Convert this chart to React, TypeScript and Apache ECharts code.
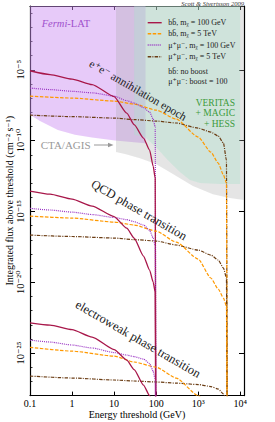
import React, { useEffect, useRef } from "react";
import * as echarts from "echarts";

// ---------- data (energies in GeV, fluxes as log10 of cm^-2 s^-1) ----------
const energy100GeV = [0.1, 0.3, 1, 3, 10, 20, 30, 50, 70, 85, 95, 100];
const energy5TeV = [0.1, 1, 10, 30, 100, 300, 1000, 2000, 3000, 4000, 4700, 5000];

// e+e- annihilation epoch
const annBb100 = [-5.07, -5.34, -5.66, -6.05, -6.89, -8.06, -8.88, -9.82, -10.67, -11.8, -12.65, -40];
const annMu100 = [-6.29, -6.4, -6.52, -6.63, -6.86, -7.18, -7.35, -7.67, -7.99, -8.48, -9.05, -40];
const annBb5000 = [-6.86, -7.0, -7.21, -7.42, -7.85, -8.48, -9.75, -10.81, -11.59, -12.43, -13.0, -40];
const annMu5000 = [-8.2, -8.31, -8.41, -8.52, -8.62, -8.76, -9.12, -9.4, -9.68, -10.18, -11.38, -40];

// QCD phase transition
const qcdBb100 = [-13.56, -13.78, -14.13, -14.62, -15.36, -16.18, -16.88, -18.15, -19.14, -19.99, -20.69, -40];
const qcdMu100 = [-14.78, -14.9, -15.05, -15.22, -15.43, -15.58, -15.72, -15.96, -16.32, -16.88, -17.45, -40];
const qcdBb5000 = [-15.33, -15.47, -15.75, -15.96, -16.39, -17.16, -18.36, -19.7, -20.48, -21.12, -21.68, -40];
const qcdMu5000 = [-16.67, -16.77, -16.88, -16.99, -17.09, -17.37, -17.73, -18.08, -18.43, -19.0, -19.7, -40];

// electroweak phase transition
const ewBb100 = [-22.86, -23.02, -23.34, -23.87, -24.75, -25.49, -26.16, -27.26, -28.0, -28.8, -30, -40];
const ewMu100 = [-24.08, -24.22, -24.43, -24.64, -24.96, -25.14, -25.25, -25.42, -25.74, -26.27, -26.9, -40];
const ewBb5000 = [-24.59, -24.86, -25.21, -25.63, -25.99, -26.76, -28.0, -29, -30, -31, -32, -40];
const ewMu5000 = [-26.62, -26.76, -26.9, -26.97, -27.04, -27.12, -27.22, -27.36, -27.54, -27.89, -28.3, -40];

// sensitivity regions (lower boundaries)
const fermiEnergy = [0.1, 0.173, 0.46, 1.17, 2.98, 10.5, 29.7, 56];
const fermiLogFlux = [-8.17, -8.62, -9.26, -9.58, -9.79, -10.0, -10.11, -10.18];
const ctaEnergy = [11.1, 18.2, 41.2, 99, 251, 750, 2244, 5690, 13000];
const ctaLogFlux = [-10.81, -10.95, -11.24, -11.66, -12.36, -13.21, -13.78, -14.06, -14.2];
const veritasEnergy = [30, 54, 104, 191, 368, 637, 1100, 3290, 10000];
const veritasLogFlux = [-9.61, -9.75, -10.53, -11.38, -12.22, -12.79, -13.0, -13.07, -13.07];

// tick labels
const xTickValues = [-1, 0, 1, 2, 3, 4];
const xTickLabels = ["0.1", "1", "10", "100", "10³", "10⁴"];
const yTickValues = [-25, -20, -15, -10, -5];
const yTickLabels = ["10⁻²⁵", "10⁻²⁰", "10⁻¹⁵", "10⁻¹⁰", "10⁻⁵"];

const legendNames = [
  "bb̄, mᵪ = 100 GeV",
  "bb̄, mᵪ = 5 TeV",
  "μ⁺μ⁻, mᵪ = 100 GeV",
  "μ⁺μ⁻, mᵪ = 5 TeV",
];
const legendKeys = ["bb100", "bb5000", "mu100", "mu5000"];
const legendNotes = ["bb̄: no boost", "μ⁺μ⁻: boost = 100"];

// ---------- styles ----------
const SERIF = '"Liberation Serif", "DejaVu Serif", serif';
const styles: Record<string, { color: string; type: any; width: number }> = {
  bb100: { color: "#a8174a", type: "solid", width: 1.3 },
  bb5000: { color: "#ff9900", type: [3.5, 1.5], width: 1.2 },
  mu100: { color: "#9a35c4", type: [1, 1], width: 1.2 },
  mu5000: { color: "#6b3d14", type: [3.5, 1.2, 1, 1.2], width: 1.2 },
};

function pts(energies: number[], logFlux: number[]) {
  return energies.map((e, i) => [Math.log10(e), logFlux[i]]);
}

function curve(key: string, name: string, energies: number[], logFlux: number[]) {
  const s = styles[key];
  return {
    type: "line",
    name,
    data: pts(energies, logFlux),
    symbol: "none",
    showSymbol: false,
    smooth: 0.2,
    smoothMonotone: "x",
    clip: true,
    color: s.color,
    lineStyle: { color: s.color, type: s.type, width: s.width },
    z: 3,
    silent: true,
  };
}

function region(name: string, energies: number[], logFlux: number[], color: string) {
  return {
    type: "line",
    name,
    data: pts(energies, logFlux),
    symbol: "none",
    showSymbol: false,
    clip: true,
    lineStyle: { width: 0, opacity: 0 },
    areaStyle: { origin: "end", color, opacity: 1 },
    z: 1,
    silent: true,
  };
}

const axisLineStyle = { show: true, onZero: false, lineStyle: { color: "#000", width: 1.2 } };

function buildOption() {
  const series: any[] = [
    region("Fermi-LAT", fermiEnergy, fermiLogFlux, "rgba(205,145,242,0.48)"),
    region("CTA/AGIS", ctaEnergy, ctaLogFlux, "rgba(170,170,170,0.3)"),
    region("VERITAS", veritasEnergy, veritasLogFlux, "rgba(175,225,205,0.4)"),
  ];
  const groups = [
    [annBb100, annBb5000, annMu100, annMu5000],
    [qcdBb100, qcdBb5000, qcdMu100, qcdMu5000],
    [ewBb100, ewBb5000, ewMu100, ewMu5000],
  ];
  groups.forEach((g) => {
    series.push(curve("mu5000", legendNames[3], energy5TeV, g[3]));
    series.push(curve("bb5000", legendNames[1], energy5TeV, g[1]));
    series.push(curve("mu100", legendNames[2], energy100GeV, g[2]));
    series.push(curve("bb100", legendNames[0], energy100GeV, g[0]));
  });

  const txt = (text: string, x: number, y: number, extra: any = {}) => ({
    type: "text",
    x,
    y,
    silent: true,
    z: 10,
    rotation: extra.rotation || 0,
    style: {
      text,
      fontFamily: SERIF,
      fontSize: extra.fontSize || 10,
      fill: extra.fill || "#111",
      align: extra.align || "left",
      verticalAlign: "middle",
      fontStyle: extra.fontStyle || "normal",
      lineHeight: extra.lineHeight,
      rich: extra.rich,
    },
  });
  const rot = (-30 * Math.PI) / 180;

  const graphic: any[] = [
    txt("Scott & Sivertsson 2009", 244, 3.3, { fontSize: 6.5, align: "right", fontStyle: "italic", fill: "#333" }),
    txt("{i|Fermi}-LAT", 41.7, 23.5, {
      fontSize: 10.5,
      fill: "#a050cc",
      rich: { i: { fontStyle: "italic", fontFamily: SERIF, fontSize: 10.5, fill: "#a050cc" } },
    }),
    txt("e⁺e⁻ annihilation epoch", 138, 90, { fontSize: 11.5, align: "center", rotation: rot, fill: "#1a1a1a" }),
    txt("QCD phase transition", 139, 210, { fontSize: 12.5, align: "center", rotation: rot, fill: "#1a1a1a" }),
    txt("electroweak phase transition", 138, 339, { fontSize: 12.5, align: "center", rotation: rot, fill: "#1a1a1a" }),
    txt("CTA/AGIS", 40.7, 145, { fontSize: 11, fill: "#999" }),
    {
      type: "line",
      silent: true,
      z: 10,
      shape: { x1: 94, y1: 145, x2: 110, y2: 145 },
      style: { stroke: "#999", lineWidth: 1 },
    },
    {
      type: "polygon",
      silent: true,
      z: 10,
      shape: { points: [[113.5, 145], [108, 142.8], [108, 147.2]] },
      style: { fill: "#999" },
    },
    txt("VERITAS\n+ MAGIC\n+ HESS", 235, 113, {
      fontSize: 9.5,
      lineHeight: 10.5,
      align: "right",
      fill: "#3c9b3c",
    }),
  ];

  // legend (drawn as graphic swatches + labels)
  const rowY = [22.7, 33.7, 45, 56.7];
  legendKeys.forEach((k, i) => {
    const s = styles[k];
    graphic.push({
      type: "line",
      silent: true,
      z: 10,
      shape: { x1: 147.7, y1: rowY[i], x2: 161.7, y2: rowY[i] },
      style: {
        stroke: s.color,
        lineWidth: 1.4,
        lineDash: Array.isArray(s.type) ? s.type : null,
      },
    });
    graphic.push(txt(legendNames[i], 168.3, rowY[i], { fontSize: 8, fill: "#222" }));
  });
  graphic.push(txt(legendNotes[0], 168.3, 71.7, { fontSize: 8, fill: "#222" }));
  graphic.push(txt(legendNotes[1], 168.3, 81, { fontSize: 8, fill: "#222" }));

  const xFmt = (v: number) => {
    const i = xTickValues.indexOf(Math.round(v * 1000) / 1000);
    return i >= 0 ? xTickLabels[i] : "";
  };
  const yFmt = (v: number) => {
    const i = yTickValues.indexOf(Math.round(v * 1000) / 1000);
    return i >= 0 ? yTickLabels[i] : "";
  };

  return {
    animation: false,
    backgroundColor: "#fff",
    textStyle: { fontFamily: SERIF },
    grid: { left: 30, right: 31, top: 6, bottom: 26.4, containLabel: false, outerBoundsMode: "none" },
    xAxis: [
      {
        type: "value",
        min: -1,
        max: 4.09,
        interval: 1,
        position: "bottom",
        axisLine: axisLineStyle,
        axisTick: { show: true, inside: true, length: 4, lineStyle: { color: "#000", width: 1 } },
        axisLabel: {
          formatter: xFmt,
          showMaxLabel: false,
          fontFamily: SERIF,
          fontSize: 10,
          color: "#000",
          margin: 2.5,
        },
        splitLine: { show: false },
        name: "Energy threshold (GeV)",
        nameLocation: "middle",
        nameGap: 14.3,
        nameMoveOverlap: false,
        nameTextStyle: { fontFamily: SERIF, fontSize: 10, color: "#000", verticalAlign: "top" },
      },
      {
        type: "value",
        min: -1,
        max: 4.09,
        interval: 1,
        position: "top",
        axisLine: axisLineStyle,
        axisTick: { show: true, inside: true, length: 4, lineStyle: { color: "#000", width: 1 } },
        axisLabel: { show: false },
        splitLine: { show: false },
      },
    ],
    yAxis: [
      {
        type: "value",
        min: -28,
        max: -0.5,
        splitNumber: 5,
        position: "left",
        axisLine: axisLineStyle,
        axisTick: { show: true, inside: true, length: 5, lineStyle: { color: "#000", width: 1 } },
        minorTick: { show: true, splitNumber: 5, length: 2.5, lineStyle: { color: "#000", width: 0.8 } },
        axisLabel: {
          formatter: yFmt,
          rotate: 90,
          showMinLabel: false,
          showMaxLabel: false,
          fontFamily: SERIF,
          fontSize: 10.5,
          color: "#000",
          margin: 4,
        },
        splitLine: { show: false },
        minorSplitLine: { show: false },
        name: "Integrated flux above threshold (cm⁻² s⁻¹)",
        nameLocation: "middle",
        nameRotate: 90,
        nameGap: 16,
        nameMoveOverlap: false,
        nameTextStyle: { fontFamily: SERIF, fontSize: 10, color: "#000" },
      },
      {
        type: "value",
        min: -28,
        max: -0.5,
        splitNumber: 5,
        position: "right",
        axisLine: axisLineStyle,
        axisTick: { show: true, inside: true, length: 5, lineStyle: { color: "#000", width: 1 } },
        axisLabel: { show: false },
        splitLine: { show: false },
      },
    ],
    series,
    graphic,
  };
}

export default function App() {
  const ref = useRef<HTMLDivElement>(null);
  useEffect(() => {
    if (!ref.current) return;
    const chart = echarts.init(ref.current, null, { renderer: "svg" });
    chart.setOption(buildOption() as any);
    return () => chart.dispose();
  }, []);
  return (
    <div
      ref={ref}
      style={{ position: "fixed", left: 0, top: 0, width: 275, height: 422, background: "#fff" }}
    />
  );
}
